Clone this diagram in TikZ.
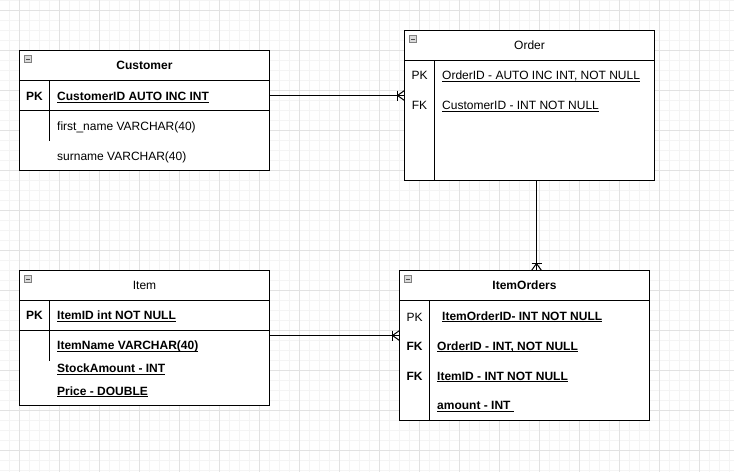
\documentclass[tikz,border=0pt]{standalone}
\usepackage{fontspec}
\setmainfont{Liberation Sans}
\newcommand\ulx[1]{\setbox0\hbox{#1}\rlap{\rule[-2.2pt]{\wd0}{0.9pt}}\box0}
\definecolor{gridmajor}{HTML}{E2E2E2}
\definecolor{gridminor}{HTML}{F4F4F4}
\definecolor{iconfill}{HTML}{DADADA}
\definecolor{iconline}{HTML}{808080}
\begin{document}
\begin{tikzpicture}[x=1pt,y=-1pt, font=\fontsize{12}{14}\selectfont,
  tbl/.style={draw=black, fill=white, line width=1pt, rectangle, inner sep=0pt, outer sep=0pt, anchor=north west},
  lbl/.style={anchor=base west, inner sep=0pt},
  keyl/.style={anchor=base, inner sep=0pt},
  ttl/.style={anchor=base, inner sep=0pt},
  sep/.style={line width=1pt, black},
  conn/.style={line width=1pt, black},
  minorgrid/.style={gridminor, line width=1pt},
  majorgrid/.style={gridmajor, line width=1pt}]
\useasboundingbox (0,0) rectangle (734,472);
\fill[white] (0,0) rectangle (734,472);
% grid
\foreach \x in {9,19,...,729} \draw[minorgrid] (\x,0) -- (\x,472);
\foreach \y in {0,10,...,470} \draw[minorgrid] (0,\y) -- (734,\y);
\foreach \x in {19,59,...,739} \draw[majorgrid] (\x,0) -- (\x,472);
\foreach \y in {10,50,...,470} \draw[majorgrid] (0,\y) -- (734,\y);

% tables
\node[tbl, minimum width=250pt, minimum height=120pt] (cust) at (19.5,50.5) {};
\node[tbl, minimum width=250pt, minimum height=150pt] (order) at (404.5,30.5) {};
\node[tbl, minimum width=250pt, minimum height=135pt] (item) at (19.5,270.5) {};
\node[tbl, minimum width=250pt, minimum height=150pt] (io) at (399.5,270.5) {};

% separators
\draw[sep] (19.5,80.5) -- (269.5,80.5);
\draw[sep] (19.5,110.5) -- (269.5,110.5);
\draw[sep] (49.5,80.5) -- (49.5,140.5);
\draw[sep] (404.5,60.5) -- (654.5,60.5);
\draw[sep] (434.5,60.5) -- (434.5,180.5);
\draw[sep] (19.5,300.5) -- (269.5,300.5);
\draw[sep] (19.5,330.5) -- (269.5,330.5);
\draw[sep] (49.5,300.5) -- (49.5,360.5);
\draw[sep] (399.5,300.5) -- (649.5,300.5);
\draw[sep] (429.5,300.5) -- (429.5,420.5);

% collapse icons
\foreach \px/\py in {24.5/55.5, 409.5/35.5, 24.5/275.5, 404.5/275.5} {
  \draw[iconline, fill=iconfill, line width=0.8pt] (\px,\py) rectangle ++(7,7);
  \draw[black!70, line width=0.9pt] (\px+1.8,\py+3.5) -- (\px+5.2,\py+3.5);
}

% Customer
\node[ttl] (custt) at (144.5,69.5) {\textbf{Customer}};
\node[keyl] (custk1) at (34.5,100.3) {\textbf{PK}};
\node[lbl] (custr1) at (57,100.3) {\ulx{\textbf{CustomerID AUTO INC INT}}};
\node[lbl] (custr2) at (57,130.3) {first\_name VARCHAR(40)};
\node[lbl] (custr3) at (57,160.3) {surname VARCHAR(40)};

% Order
\node[ttl] (ordert) at (529.5,49.5) {Order};
\node[keyl] (ordk1) at (419.5,79.3) {PK};
\node[keyl] (ordk2) at (419.5,109.3) {FK};
\node[lbl] (ordr1) at (442,79.3) {\ulx{OrderID - AUTO INC INT, NOT NULL}};
\node[lbl] (ordr2) at (442,109.3) {\ulx{CustomerID - INT NOT NULL}};

% Item
\node[ttl] (itemt) at (144.5,289.5) {Item};
\node[keyl] (itemk1) at (34.5,319.8) {\textbf{PK}};
\node[lbl] (itemr1) at (57,319.8) {\ulx{\textbf{ItemID int NOT NULL}}};
\node[lbl] (itemr2) at (57,349.3) {\ulx{\textbf{ItemName VARCHAR(40)}}};
\node[lbl] (itemr3) at (57,372.3) {\ulx{\textbf{StockAmount - INT}}};
\node[lbl] (itemr4) at (57,395) {\ulx{\textbf{Price - DOUBLE}}};

% ItemOrders
\node[ttl] (iot) at (524.5,289.8) {\textbf{ItemOrders}};
\node[keyl] (iok1) at (414.5,321.3) {PK};
\node[keyl] (iok2) at (414.5,350) {\textbf{FK}};
\node[keyl] (iok3) at (414.5,380) {\textbf{FK}};
\node[lbl] (ior1) at (442,320) {\ulx{\textbf{ItemOrderID- INT NOT NULL}}};
\node[lbl] (ior2) at (437,350) {\ulx{\textbf{OrderID - INT, NOT NULL}}};
\node[lbl] (ior3) at (437,380) {\ulx{\textbf{ItemID - INT NOT NULL}}};
\node[lbl] (ior4) at (437,409.3) {\ulx{\textbf{amount - INT\ }}};

% connectors
\coordinate (ya) at (0,95.5);
\coordinate (yb) at (0,335.5);
\coordinate (xc) at (536.5,0);
% Customer -> Order
\draw[conn] (cust.east |- ya) -- (order.west |- ya);
\draw[conn] ([xshift=-7pt]order.west |- ya) ++(0,-5) -- ++(0,10);
\draw[conn] ([yshift=5pt]order.west |- ya) -- ([xshift=-7pt]order.west |- ya) -- ([yshift=-5pt]order.west |- ya);
% Item -> ItemOrders
\draw[conn] (item.east |- yb) -- (io.west |- yb);
\draw[conn] ([xshift=-7pt]io.west |- yb) ++(0,-5) -- ++(0,10);
\draw[conn] ([yshift=5pt]io.west |- yb) -- ([xshift=-7pt]io.west |- yb) -- ([yshift=-5pt]io.west |- yb);
% Order -> ItemOrders
\draw[conn] (order.south -| xc) -- (io.north -| xc);
\draw[conn] ([yshift=7pt]io.north -| xc) ++(-5,0) -- ++(10,0);
\draw[conn] ([xshift=-5pt]io.north -| xc) -- ([yshift=7pt]io.north -| xc) -- ([xshift=5pt]io.north -| xc);
\end{tikzpicture}
\end{document}
